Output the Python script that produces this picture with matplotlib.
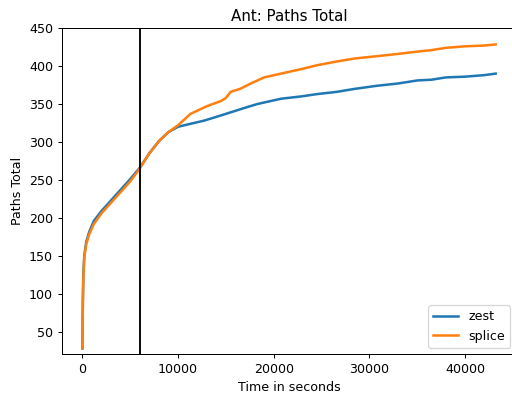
import matplotlib
matplotlib.use('Agg')
import matplotlib.pyplot as plt

# tempo (s) e total de caminhos
zest_t = [0, 50, 100, 200, 400, 700, 1200, 2000, 3000, 4000, 5000, 6000, 7000, 8000, 9000,
          10000, 11000, 12700, 14000, 15500, 17000, 18300, 20800, 22900, 24500, 26600,
          28500, 30800, 33000, 35000, 36500, 38000, 40000, 42000, 43200]
zest_v = [28, 90, 125, 150, 168, 181, 196, 209, 223, 237, 251, 266, 285, 301, 313,
          320, 323, 328, 333, 339, 345, 350, 357, 360, 363, 366,
          370, 374, 377, 381, 382, 385, 386, 388, 390]

splice_t = [0, 50, 100, 200, 400, 700, 1200, 2000, 3000, 4000, 5000, 6000, 7000, 8000, 9000,
            10000, 11300, 13000, 14500, 15000, 15500, 16500, 17600, 19000, 21100, 22900,
            24500, 26600, 28500, 30800, 33000, 35000, 36500, 38000, 40000, 42000, 43200]
splice_v = [28, 85, 120, 148, 165, 178, 192, 206, 220, 234, 248, 265, 285, 301, 313,
            322, 337, 347, 354, 358, 366, 370, 377, 385, 391, 396,
            401, 406, 410, 413, 416, 419, 421, 424, 426, 427, 428.5]

marcador = 6000

dpi = 90.5
fig = plt.figure(figsize=(512 / dpi, 407 / dpi), dpi=dpi)
# eixo um pouco além da borda direita, como na imagem original (recortada)
ax = fig.add_axes([0.1205, 0.130, 0.888, 0.801])

ax.plot(zest_t, zest_v, color='#1f77b4', linewidth=2, label='zest')
ax.plot(splice_t, splice_v, color='#ff7f0e', linewidth=2, label='splice')
ax.axvline(marcador, color='black', linewidth=1.5)

ax.set_xlim(-2160, 45360)
ax.set_ylim(20.5, 450)
ax.set_title('Ant: Paths Total')
ax.set_xlabel('Time in seconds')
ax.set_ylabel('Paths Total')
ax.legend(loc='lower right')

plt.savefig('out.png', dpi=dpi)
